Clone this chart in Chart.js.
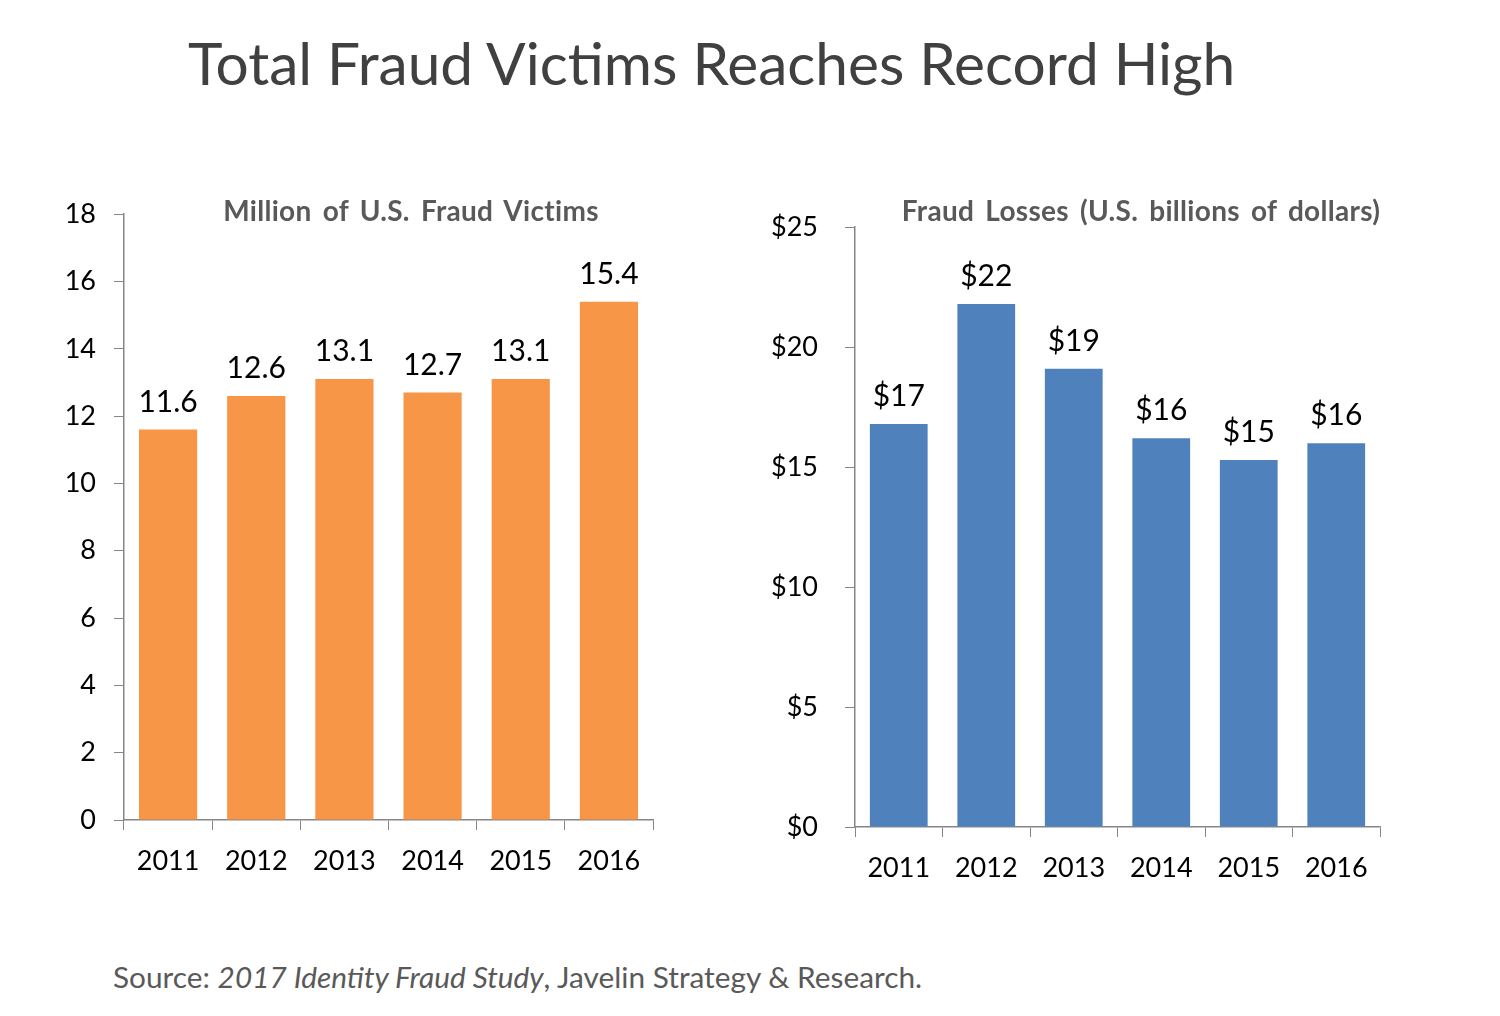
<!DOCTYPE html>
<html>
<head>
<meta charset="utf-8">
<script src="https://cdn.jsdelivr.net/npm/chart.js@4.4.1/dist/chart.umd.min.js"></script>
<style>
  body { margin: 0; background: #fff; width: 1500px; height: 1016px; overflow: hidden; position: relative; font-family: Lato, sans-serif; }
  .box { position: absolute; }
  #title { left: 188px; top: 27px; font-size: 58.6px; color: #404040; white-space: nowrap; }
  .sub { top: 193px; font-size: 28px; font-weight: bold; color: #595959; white-space: nowrap; letter-spacing: 0.3px; word-spacing: 4px; transform: translateX(-50%); }
  #subLeft { left: 411px; }
  #subRight { left: 1141px; }
  #source { left: 113px; top: 959px; font-size: 29.8px; color: #595959; white-space: nowrap; }
</style>
</head>
<body>
<div id="title" class="box">Total Fraud Victims Reaches Record High</div>
<div class="box" style="left:0;top:180px;width:700px;height:730px"><canvas id="victims"></canvas></div>
<div class="box" style="left:730px;top:184px;width:720px;height:726px"><canvas id="losses"></canvas></div>
<div id="subLeft" class="box sub">Million of U.S. Fraud Victims</div>
<div id="subRight" class="box sub">Fraud Losses (U.S. billions of dollars)</div>
<div id="source" class="box">Source: <i>2017 Identity Fraud Study</i>, Javelin Strategy &amp; Research.</div>
<script>
const years = ['2011', '2012', '2013', '2014', '2015', '2016'];
const victims = [11.6, 12.6, 13.1, 12.7, 13.1, 15.4];
const losses = [16.8, 21.8, 19.1, 16.2, 15.3, 16.0];

const font = 'Lato';
const axisGrey = '#868686';

// value labels above each bar
const barLabels = {
    id: 'barLabels',
    afterDatasetsDraw(chart, args, opts) {
        const c = chart.ctx;
        const ds = chart.data.datasets[0];
        c.save();
        c.font = '30px ' + font;
        c.fillStyle = '#000';
        c.textAlign = 'center';
        c.textBaseline = 'alphabetic';
        chart.getDatasetMeta(0).data.forEach((bar, i) => {
            c.fillText(opts.format(ds.data[i]), bar.x, bar.y - 18);
        });
        c.restore();
    }
};

function makeChart(id, values, colour, yMax, step, yWidth, yPad, xHeight, padding, fmtTick, fmtLabel) {
    return new Chart(document.getElementById(id), {
        type: 'bar',
        data: {
            labels: years,
            datasets: [{
                data: values,
                backgroundColor: colour,
                barPercentage: 0.66,
                categoryPercentage: 1
            }]
        },
        options: {
            responsive: true,
            maintainAspectRatio: false,
            animation: false,
            layout: { padding: padding },
            plugins: {
                legend: { display: false },
                tooltip: { enabled: false },
                barLabels: { format: fmtLabel }
            },
            scales: {
                x: {
                    grid: { drawOnChartArea: false, tickLength: 10, color: axisGrey, offset: true },
                    border: { color: axisGrey, width: 1.5 },
                    ticks: { color: '#000', font: { family: font, size: 27 }, padding: 15 },
                    afterFit(scale) { scale.height = xHeight; }
                },
                y: {
                    min: 0,
                    max: yMax,
                    grid: { drawOnChartArea: false, tickLength: 10, color: axisGrey },
                    border: { color: axisGrey, width: 1.5 },
                    ticks: { stepSize: step, color: '#000', font: { family: font, size: 27 }, padding: yPad, callback: fmtTick },
                    afterFit(scale) { scale.width = yWidth; }
                }
            }
        },
        plugins: [barLabels]
    });
}

makeChart('victims', victims, '#F79646', 18, 2, 124, 18, 90,
    { left: 0, right: 47, top: 24, bottom: 0 },
    v => v, v => v.toFixed(1));

makeChart('losses', losses, '#4F81BD', 25, 5, 125, 27, 83,
    { left: 0, right: 70, top: 37, bottom: 0 },
    v => '$' + v, v => '$' + Math.round(v));
</script>
</body>
</html>
